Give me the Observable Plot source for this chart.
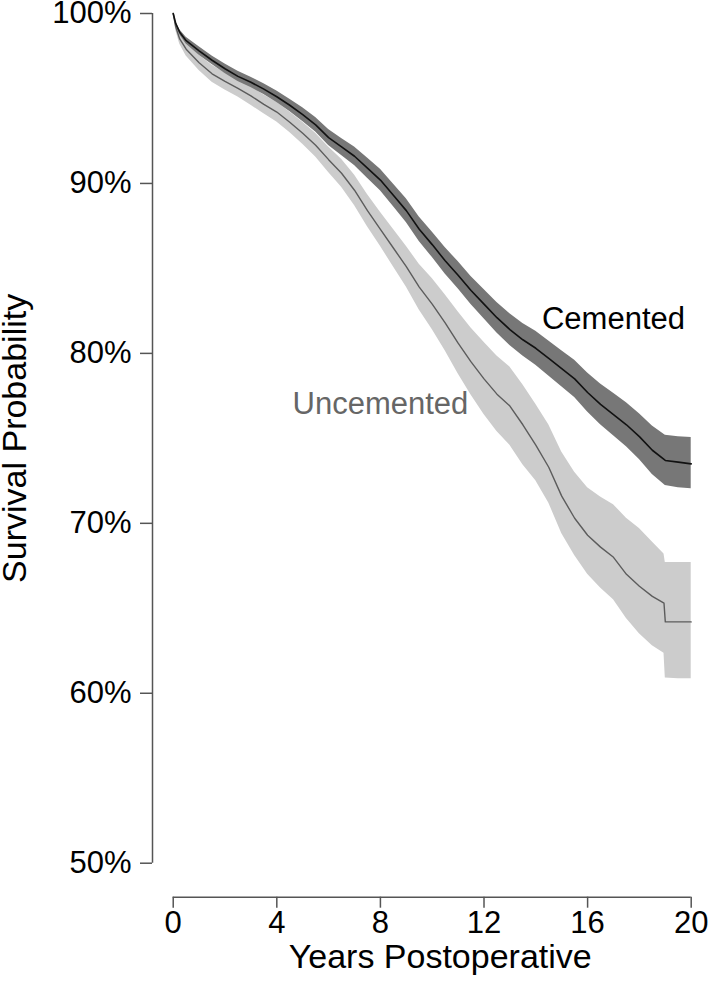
<!DOCTYPE html>
<html><head><meta charset="utf-8">
<script src="https://cdn.jsdelivr.net/npm/d3@7"></script>
<script src="https://cdn.jsdelivr.net/npm/@observablehq/plot@0.6"></script>
<style>html,body{margin:0;padding:0;background:#fff;} #chart svg{display:block}</style>
</head><body><div id="chart"></div>
<script>
// Cemented: Kaplan-Meier survival (%) with 95% CI
const cemYears = [0,0.1,0.25,0.5,1,1.5,2,2.5,3,3.5,4,4.5,5,5.5,6,6.5,7,7.5,8,8.5,9,9.5,10,10.5,11,11.5,12,12.5,13,13.5,14,14.5,15,15.5,16,16.5,17,17.5,18,18.5,19,19.5,20];
const cemSurv = [100,99.4,98.9,98.4,97.8,97.25,96.75,96.3,95.95,95.55,95.1,94.6,94.05,93.45,92.7,92.15,91.6,90.9,90.2,89.3,88.4,87.3,86.4,85.45,84.6,83.7,82.9,82.1,81.4,80.8,80.3,79.7,79.1,78.5,77.7,77.0,76.4,75.8,75.1,74.3,73.7,73.6,73.5];
const cemHi = [100,99.5,99.05,98.6,98.05,97.5,97.03,96.6,96.25,95.87,95.44,94.96,94.45,93.88,93.17,92.65,92.15,91.5,90.83,89.96,89.1,88.02,87.15,86.23,85.4,84.53,83.76,83.0,82.33,81.76,81.3,80.73,80.16,79.6,78.85,78.2,77.65,77.1,76.45,75.72,75.18,75.1,75.05];
const cemLo = [100,99.3,98.75,98.2,97.55,97.0,96.47,96.0,95.65,95.23,94.76,94.24,93.65,93.02,92.23,91.65,91.05,90.3,89.57,88.64,87.7,86.58,85.65,84.67,83.8,82.87,82.04,81.2,80.47,79.84,79.3,78.67,78.04,77.4,76.55,75.8,75.15,74.5,73.75,72.88,72.22,72.1,72.04];

// Uncemented: Kaplan-Meier survival (%) with 95% CI
const uncYears = [0,0.1,0.25,0.5,1,1.5,2,2.5,3,3.5,4,4.5,5,5.5,6,6.5,7,7.5,8,8.5,9,9.5,10,10.5,11,11.5,12,12.5,13,13.5,14,14.5,15,15.5,16,16.5,17,17.5,18,18.5,18.95,19,19.5,20];
const uncSurv = [100,99.2,98.5,97.9,97.1,96.45,96.0,95.6,95.15,94.65,94.2,93.6,92.95,92.25,91.4,90.6,89.6,88.4,87.3,86.2,85.1,83.9,82.9,81.8,80.6,79.5,78.5,77.6,76.9,75.8,74.6,73.3,71.6,70.3,69.3,68.6,68.0,67.0,66.3,65.7,65.3,64.2,64.2,64.2];
const uncHi = [100,99.4,98.8,98.3,97.55,96.95,96.5,96.12,95.7,95.2,94.78,94.2,93.6,92.95,92.15,91.42,90.5,89.35,88.3,87.3,86.3,85.25,84.4,83.45,82.45,81.5,80.65,79.85,79.2,78.15,77.0,75.8,74.2,73.0,72.1,71.55,71.1,70.3,69.7,68.9,68.2,67.7,67.7,67.7];
const uncLo = [100,99.0,98.2,97.5,96.65,95.95,95.5,95.08,94.6,94.1,93.62,93.0,92.3,91.55,90.65,89.78,88.7,87.45,86.3,85.1,83.9,82.55,81.4,80.15,78.8,77.55,76.4,75.4,74.6,73.45,72.5,71.2,69.4,68.1,67.0,66.2,65.5,64.4,63.5,62.8,62.35,60.9,60.85,60.85];

const xTicks = [0,4,8,12,16,20];
const yTicks = [50,60,70,80,90,100];
const labelNames = ["Cemented","Uncemented"];
const labelYears = [17.0, 8.0];
const labelSurv = [82.0, 77.0];
const labelColors = ["#000000", "#666666"];

const cem = cemYears.map((t,i)=>({t, s: cemSurv[i], lo: cemLo[i], hi: cemHi[i]}));
const unc = uncYears.map((t,i)=>({t, s: uncSurv[i], lo: uncLo[i], hi: uncHi[i]}));
const labels = labelNames.map((name,i)=>({name, t: labelYears[i], s: labelSurv[i], c: labelColors[i]}));

const font = "'Liberation Sans', Arial, Helvetica, sans-serif";
const xStart = -0.8;   // position of the detached y-axis line
const yStart = 48;     // position of the detached x-axis line

const chart = Plot.plot({
  width: 708, height: 989,
  marginLeft: 152, marginRight: 17.3, marginTop: 13, marginBottom: 92.3,
  style: {fontFamily: font, background: "#fff", color: "#000", overflow: "visible"},
  x: {domain: [xStart, 20]},
  y: {domain: [yStart, 100]},
  color: {type: "identity"},
  marks: [
    Plot.areaY(unc, {x: "t", y1: "lo", y2: "hi", fill: "#cccccc"}),
    Plot.areaY(cem, {x: "t", y1: "lo", y2: "hi", fill: "#777777"}),
    Plot.line(unc, {x: "t", y: "s", stroke: "#5c5c5c", strokeWidth: 1.4}),
    Plot.line(cem, {x: "t", y: "s", stroke: "#111111", strokeWidth: 1.6}),
    Plot.ruleX([xStart], {y1: 50, y2: 100, stroke: "#555", strokeWidth: 1.5}),
    Plot.ruleY([yStart], {x1: 0, x2: 20, stroke: "#555", strokeWidth: 1.5}),
    Plot.axisY(yTicks, {anchor: "left", tickSize: 12, tickPadding: 9, tickFormat: d => d + "%", fontSize: 31, label: null, stroke: "#555", strokeWidth: 1.5, fill: "#000"}),
    Plot.axisX(xTicks, {anchor: "bottom", tickSize: 11, tickPadding: 3, fontSize: 31, label: null, stroke: "#555", strokeWidth: 1.5, fill: "#000"}),
    Plot.text(["Years Postoperative"], {x: 10, y: yStart, dx: 8, dy: 60, fontSize: 34, fill: "#000"}),
    Plot.text(["Survival Probability"], {x: xStart, y: 75, dx: -137, rotate: -90, fontSize: 34, fill: "#000"}),
    Plot.text(labels, {x: "t", y: "s", text: "name", fill: "c", fontSize: 31})
  ]
});
document.getElementById("chart").appendChild(chart);
</script>
</body></html>
